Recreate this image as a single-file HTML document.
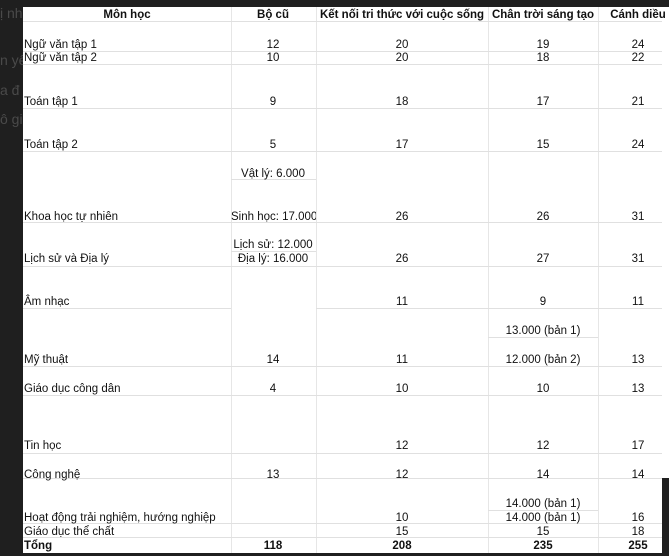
<!DOCTYPE html>
<html><head><meta charset="utf-8"><style>
body{margin:0;width:669px;height:556px;background:#1f1f1f;position:relative;overflow:hidden;font-family:"Liberation Sans",sans-serif;font-size:11.5px;color:#111}
#t{position:absolute;left:23px;top:7px;width:646px;height:546px;background:#fff}
.h{position:absolute;height:1px;background:#e0e0e0}
.v{position:absolute;width:1px;background:#e6e6e6}
.x{position:absolute;line-height:14px;white-space:nowrap;margin-top:1px}
.c{transform:translateX(-50%)}
.b{font-weight:bold}
.g{position:absolute;color:#4a4a4a;font-size:14px}
</style></head><body>
<div class="g" style="left:0;top:5px">ị nh</div>
<div class="g" style="left:0;top:52px">n yê</div>
<div class="g" style="left:0;top:82px">a đ</div>
<div class="g" style="left:0;top:111px">ô gi</div>
<div id="t"></div>
<div style="position:absolute;left:662px;top:478px;width:7px;height:78px;background:#1f1f1f"></div>
<div class="v" style="left:231px;top:7px;height:546px"></div>
<div class="v" style="left:316px;top:7px;height:546px"></div>
<div class="v" style="left:488px;top:7px;height:546px"></div>
<div class="v" style="left:598px;top:7px;height:546px"></div>
<div class="h" style="left:23px;width:639px;top:21px"></div>
<div class="h" style="left:23px;width:639px;top:51px"></div>
<div class="h" style="left:23px;width:639px;top:64px"></div>
<div class="h" style="left:23px;width:639px;top:108px"></div>
<div class="h" style="left:23px;width:639px;top:151px"></div>
<div class="h" style="left:23px;width:639px;top:222px"></div>
<div class="h" style="left:23px;width:639px;top:266px"></div>
<div class="h" style="left:23px;width:208px;top:308px"></div>
<div class="h" style="left:316px;width:346px;top:308px"></div>
<div class="h" style="left:23px;width:639px;top:366px"></div>
<div class="h" style="left:23px;width:639px;top:395px"></div>
<div class="h" style="left:23px;width:639px;top:453px"></div>
<div class="h" style="left:23px;width:639px;top:478px"></div>
<div class="h" style="left:23px;width:639px;top:523px"></div>
<div class="h" style="left:23px;width:639px;top:537px"></div>
<div class="h" style="left:231px;width:85px;top:179px"></div>
<div class="h" style="left:231px;width:85px;top:251px"></div>
<div class="h" style="left:488px;width:110px;top:337px"></div>
<div class="h" style="left:488px;width:110px;top:510px"></div>
<div class="x c b" style="left:127px;top:7px">Môn học</div>
<div class="x c b" style="left:273px;top:7px">Bộ cũ</div>
<div class="x c b" style="left:402px;top:7px">Kết nối tri thức với cuộc sống</div>
<div class="x c b" style="left:543px;top:7px">Chân trời sáng tạo</div>
<div class="x c b" style="left:638px;top:7px">Cánh diều</div>
<div class="x" style="left:24px;top:37px">Ngữ văn tập 1</div><div class="x c" style="left:273px;top:37px">12</div><div class="x c" style="left:402px;top:37px">20</div><div class="x c" style="left:543px;top:37px">19</div><div class="x c" style="left:638px;top:37px">24</div>
<div class="x" style="left:24px;top:50px">Ngữ văn tập 2</div><div class="x c" style="left:273px;top:50px">10</div><div class="x c" style="left:402px;top:50px">20</div><div class="x c" style="left:543px;top:50px">18</div><div class="x c" style="left:638px;top:50px">22</div>
<div class="x" style="left:24px;top:94px">Toán tập 1</div><div class="x c" style="left:273px;top:94px">9</div><div class="x c" style="left:402px;top:94px">18</div><div class="x c" style="left:543px;top:94px">17</div><div class="x c" style="left:638px;top:94px">21</div>
<div class="x" style="left:24px;top:137px">Toán tập 2</div><div class="x c" style="left:273px;top:137px">5</div><div class="x c" style="left:402px;top:137px">17</div><div class="x c" style="left:543px;top:137px">15</div><div class="x c" style="left:638px;top:137px">24</div>
<div class="x c" style="left:273px;top:166px">Vật lý: 6.000</div>
<div class="x" style="left:24px;top:209px">Khoa học tự nhiên</div><div class="x" style="left:231px;top:209px;width:85px;overflow:hidden">Sinh học: 17.000</div><div class="x c" style="left:402px;top:209px">26</div><div class="x c" style="left:543px;top:209px">26</div><div class="x c" style="left:638px;top:209px">31</div>
<div class="x c" style="left:273px;top:237px">Lịch sử: 12.000</div>
<div class="x" style="left:24px;top:251px">Lịch sử và Địa lý</div><div class="x c" style="left:273px;top:251px">Địa lý: 16.000</div><div class="x c" style="left:402px;top:251px">26</div><div class="x c" style="left:543px;top:251px">27</div><div class="x c" style="left:638px;top:251px">31</div>
<div class="x" style="left:24px;top:294px">Âm nhạc</div><div class="x c" style="left:402px;top:294px">11</div><div class="x c" style="left:543px;top:294px">9</div><div class="x c" style="left:638px;top:294px">11</div>
<div class="x c" style="left:543px;top:323px">13.000 (bản 1)</div>
<div class="x" style="left:24px;top:352px">Mỹ thuật</div><div class="x c" style="left:273px;top:352px">14</div><div class="x c" style="left:402px;top:352px">11</div><div class="x c" style="left:543px;top:352px">12.000 (bản 2)</div><div class="x c" style="left:638px;top:352px">13</div>
<div class="x" style="left:24px;top:381px">Giáo dục công dân</div><div class="x c" style="left:273px;top:381px">4</div><div class="x c" style="left:402px;top:381px">10</div><div class="x c" style="left:543px;top:381px">10</div><div class="x c" style="left:638px;top:381px">13</div>
<div class="x" style="left:24px;top:438px">Tin học</div><div class="x c" style="left:402px;top:438px">12</div><div class="x c" style="left:543px;top:438px">12</div><div class="x c" style="left:638px;top:438px">17</div>
<div class="x" style="left:24px;top:467px">Công nghệ</div><div class="x c" style="left:273px;top:467px">13</div><div class="x c" style="left:402px;top:467px">12</div><div class="x c" style="left:543px;top:467px">14</div><div class="x c" style="left:638px;top:467px">14</div>
<div class="x c" style="left:543px;top:496px">14.000 (bản 1)</div>
<div class="x" style="left:24px;top:510px">Hoạt động trải nghiệm, hướng nghiệp</div><div class="x c" style="left:402px;top:510px">10</div><div class="x c" style="left:543px;top:510px">14.000 (bản 1)</div><div class="x c" style="left:638px;top:510px">16</div>
<div class="x" style="left:24px;top:524px">Giáo dục thể chất</div><div class="x c" style="left:402px;top:524px">15</div><div class="x c" style="left:543px;top:524px">15</div><div class="x c" style="left:638px;top:524px">18</div>
<div class="x b" style="left:24px;top:538px">Tổng</div><div class="x c b" style="left:273px;top:538px">118</div><div class="x c b" style="left:402px;top:538px">208</div><div class="x c b" style="left:543px;top:538px">235</div><div class="x c b" style="left:638px;top:538px">255</div>
</body></html>
